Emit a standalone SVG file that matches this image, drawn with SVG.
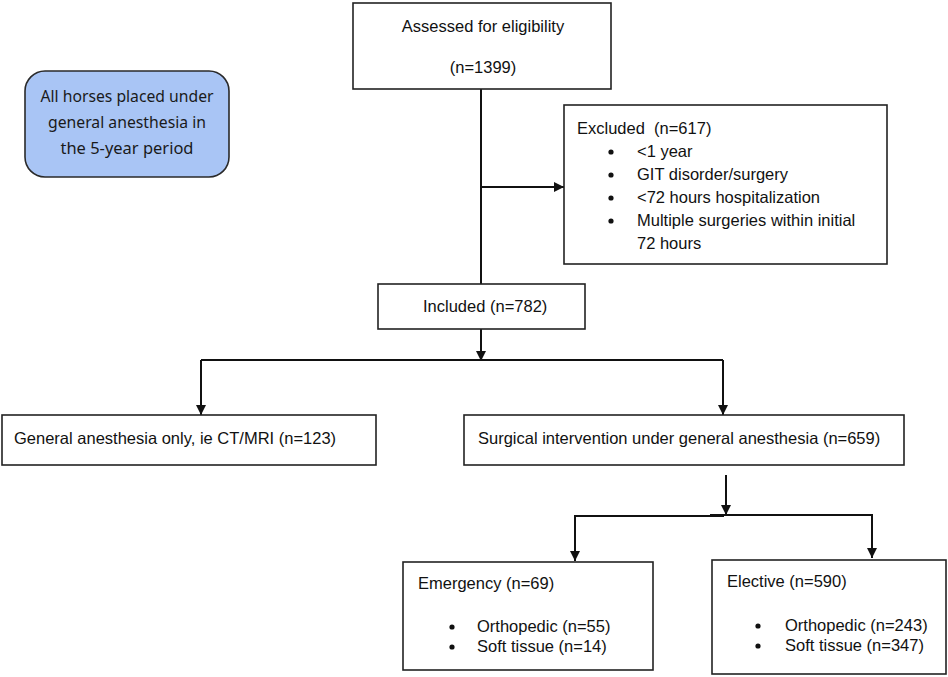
<svg xmlns="http://www.w3.org/2000/svg" width="948" height="677" viewBox="0 0 948 677">
<defs>
<marker id="ah" markerWidth="10" markerHeight="12" refX="10" refY="5" orient="auto" markerUnits="userSpaceOnUse" viewBox="0 0 10 10">
<path d="M0,0 L10,5 L0,10 Z" fill="#111"/>
</marker>
<style>
.box{fill:#fff;stroke:#222;stroke-width:1.6}
.t{font-family:"Liberation Sans",Arial,sans-serif;font-size:16.5px;fill:#111}
.c{font-family:"Noto Sans","Open Sans",sans-serif;font-size:17px;fill:#1a1a1a}
.ln{fill:none;stroke:#111;stroke-width:2}
.arr{fill:none;stroke:#111;stroke-width:2;marker-end:url(#ah)}
</style>
</defs>
<rect width="948" height="677" fill="#fff"/>
<g id="connectors">
<path class="ln" d="M481,89 V284"/>
<path class="arr" d="M481,187 H564"/>
<path class="arr" d="M481,329 V361"/>
<path class="ln" d="M201,360 H723"/>
<path class="arr" d="M201,360 V415"/>
<path class="arr" d="M723,360 V415"/>
<path class="arr" d="M726,475 V515"/>
<path class="ln" d="M575,561 V516 H724"/>
<path class="ln" d="M710,515.5 H724" style="stroke-width:3"/>
<path class="ln" d="M724,515 H872 V540"/>
<path class="arr" d="M575,530 V561"/>
<path class="arr" d="M872,530 V558"/>
</g>
<g id="start">
<rect x="25" y="71" width="204" height="106" rx="20" ry="20" fill="#a9c5f5" stroke="#2a2a2a" stroke-width="1.6"/>
<text class="c" x="127" y="102" text-anchor="middle" textLength="173" lengthAdjust="spacingAndGlyphs">All horses placed under</text>
<text class="c" x="127" y="128" text-anchor="middle" textLength="158" lengthAdjust="spacingAndGlyphs">general anesthesia in</text>
<text class="c" x="127" y="154" text-anchor="middle" textLength="133" lengthAdjust="spacingAndGlyphs">the 5-year period</text>
</g>
<g id="assessed">
<rect class="box" x="353" y="3" width="258" height="86"/>
<text class="t" x="483" y="32" text-anchor="middle">Assessed for eligibility</text>
<text class="t" x="483" y="73" text-anchor="middle">(n=1399)</text>
</g>
<g id="excluded">
<rect class="box" x="564" y="105" width="323" height="159"/>
<text class="t" x="577" y="134" xml:space="preserve">Excluded  (n=617)</text>
<circle cx="611" cy="152" r="2.6" fill="#111"/>
<text class="t" x="637" y="157">&lt;1 year</text>
<circle cx="611" cy="175" r="2.6" fill="#111"/>
<text class="t" x="637" y="180">GIT disorder/surgery</text>
<circle cx="611" cy="198" r="2.6" fill="#111"/>
<text class="t" x="637" y="203">&lt;72 hours hospitalization</text>
<circle cx="611" cy="221" r="2.6" fill="#111"/>
<text class="t" x="637" y="226">Multiple surgeries within initial</text>
<text class="t" x="637" y="249">72 hours</text>
</g>
<g id="included">
<rect class="box" x="378" y="284" width="207" height="45"/>
<text class="t" x="423" y="312">Included (n=782)</text>
</g>
<g id="ga-only">
<rect class="box" x="2" y="415" width="374" height="50"/>
<text class="t" x="14" y="444">General anesthesia only, ie CT/MRI (n=123)</text>
</g>
<g id="surgical">
<rect class="box" x="464" y="415" width="440" height="50"/>
<text class="t" x="478" y="444">Surgical intervention under general anesthesia (n=659)</text>
</g>
<g id="emergency">
<rect class="box" x="403" y="562" width="250" height="108"/>
<text class="t" x="418" y="589">Emergency (n=69)</text>
<circle cx="452" cy="627" r="2.6" fill="#111"/>
<text class="t" x="477" y="632">Orthopedic (n=55)</text>
<circle cx="452" cy="647" r="2.6" fill="#111"/>
<text class="t" x="477" y="652">Soft tissue (n=14)</text>
</g>
<g id="elective">
<rect class="box" x="712" y="560" width="234" height="114"/>
<text class="t" x="727" y="587">Elective (n=590)</text>
<circle cx="758" cy="626" r="2.6" fill="#111"/>
<text class="t" x="785" y="631">Orthopedic (n=243)</text>
<circle cx="758" cy="646" r="2.6" fill="#111"/>
<text class="t" x="785" y="651">Soft tissue (n=347)</text>
</g>
</svg>
